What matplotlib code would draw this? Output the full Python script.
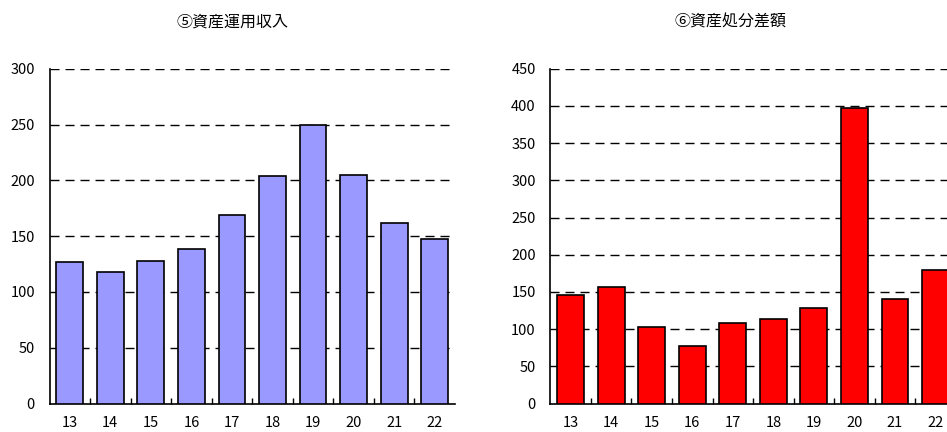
import matplotlib.pyplot as plt
import numpy as np

plt.rcParams['font.family'] = ['Noto Sans CJK JP', 'DejaVu Sans']

years = ['13', '14', '15', '16', '17', '18', '19', '20', '21', '22']
income = [127, 118, 128, 138, 169, 204, 250, 205, 162, 147]
disposal = [146, 157, 103, 77, 108, 114, 128, 397, 141, 180]

title_left = '⑤資産運用収入'
title_right = '⑥資産処分差額'


def draw_bars(ax, values, color, ymax, step, title, title_x):
    x = np.arange(len(values))
    ax.bar(x, values, width=0.66, color=color, edgecolor='black',
           linewidth=1.2, zorder=3)
    ax.set_xlim(-0.5, len(values) - 0.5)
    ax.set_ylim(0, ymax)
    ax.set_yticks(np.arange(0, ymax + 1, step))
    ax.set_xticks(x)
    ax.set_xticklabels(years)
    # small tick marks between categories, pointing up
    ax.set_xticks(np.arange(0.5, len(values) - 0.5, 1), minor=True)
    ax.tick_params(axis='x', which='major', length=0, pad=9, labelsize=10.5)
    ax.tick_params(axis='x', which='minor', direction='in', length=4,
                   width=1, color='black')
    ax.tick_params(axis='y', length=0, pad=10.5, labelsize=10.5)
    for v in np.arange(step, ymax + 1, step):
        ax.axhline(v, color='black', lw=1, dashes=(6.5, 4.3), zorder=1)
    for s in ['top', 'right']:
        ax.spines[s].set_visible(False)
    for s in ['left', 'bottom']:
        ax.spines[s].set_linewidth(1.2)
    ax.figure.text(title_x, 1 - 22 / 432, title, ha='center', va='center',
                   fontsize=11.5)


fig = plt.figure(figsize=(9.47, 4.32), dpi=100)
W, H = 947, 432

ax1 = fig.add_axes([49.5 / W, (H - 403.5) / H, 405.5 / W, 334.8 / H])
draw_bars(ax1, income, '#9999FF', 300, 50, title_left, 232 / W)

ax2 = fig.add_axes([550.3 / W, (H - 403.5) / H, 405.5 / W, 334.8 / H])
draw_bars(ax2, disposal, '#FF0000', 450, 50, title_right, 730 / W)

fig.savefig('out.png', dpi=100)
